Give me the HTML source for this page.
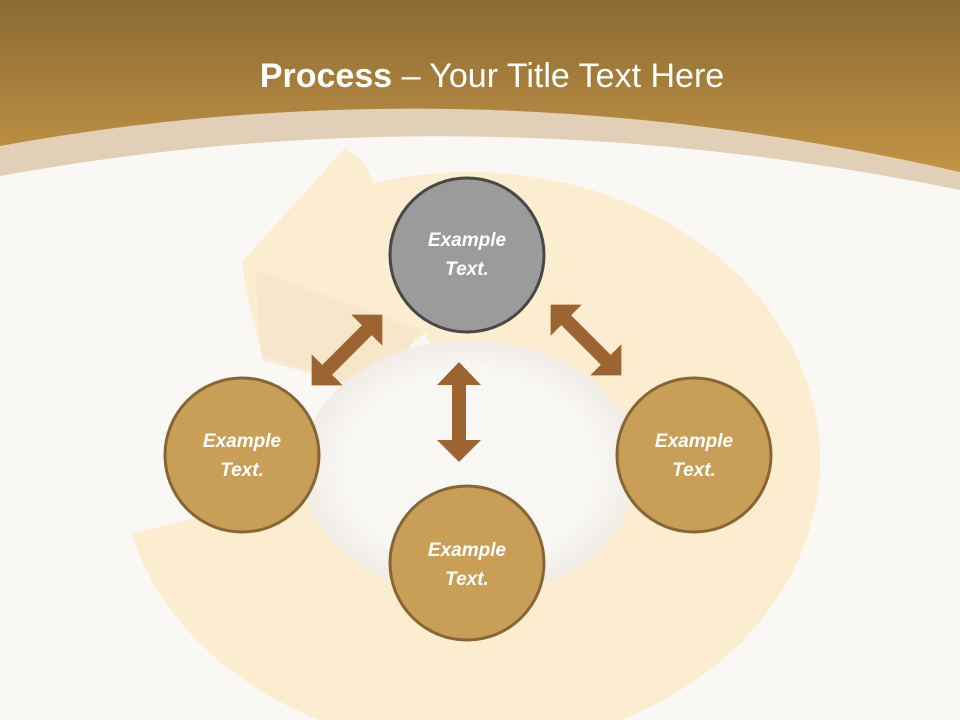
<!DOCTYPE html>
<html><head><meta charset="utf-8"><style>
html,body{margin:0;padding:0;width:960px;height:720px;overflow:hidden;background:#faf8f5}
</style></head><body>
<svg width="960" height="720" viewBox="0 0 960 720" xmlns="http://www.w3.org/2000/svg">
<defs>
<linearGradient id="hdr" x1="0" y1="0" x2="0" y2="1">
<stop offset="0" stop-color="#8a6a33"/><stop offset="1" stop-color="#cd9a48"/>
</linearGradient>
<radialGradient id="hole" cx="0.5" cy="0.5" r="0.5">
<stop offset="0.75" stop-color="#f9f7f4"/><stop offset="1" stop-color="#f0ece6"/>
</radialGradient>
<clipPath id="gap">
<path clip-rule="evenodd" d="M0,0H960V720H0Z M470,450 L-500,690 L-396,-50 L110,-500 Z"/>
</clipPath>
</defs>
<rect width="960" height="720" fill="#faf8f5"/>
<rect width="960" height="200" fill="url(#hdr)"/>
<path d="M0,146 Q470,60 960,172 L960,720 L0,720 Z" fill="#e2cfb8"/>
<path d="M0,176 Q470,90 960,190 L960,720 L0,720 Z" fill="#faf8f5"/>
<text x="492" y="87" text-anchor="middle" font-family="Liberation Sans, sans-serif" font-size="34" fill="#ffffff"><tspan font-weight="bold">Process</tspan> – Your Title Text Here</text>

<!-- background ring -->
<g clip-path="url(#gap)">
<ellipse cx="470" cy="460" rx="350" ry="288" fill="#fcecd0"/>
</g>
<polygon points="345,148 362,160 375,185 430,330 410,345 400,400 262,355 246,290 242,262" fill="#fcecd0"/>
<polygon points="255,270 420,330 410,345 405,400 262,360" fill="#f5e3c8" opacity="0.6"/>
<ellipse cx="470" cy="468" rx="168" ry="128" fill="url(#hole)"/>

<!-- arrows -->
<g fill="#9c6430">
<polygon points="459,362 481,385 466,385 466,440 481,440 459,462 437,440 452,440 452,385 437,385"/>
<g transform="translate(347,350) rotate(-45)">
<polygon points="-50,0 -28,-22 -28,-7 28,-7 28,-22 50,0 28,22 28,7 -28,7 -28,22"/>
</g>
<g transform="translate(586,340) rotate(45)">
<polygon points="-50,0 -28,-22 -28,-7 28,-7 28,-22 50,0 28,22 28,7 -28,7 -28,22"/>
</g>
</g>

<!-- circles -->
<circle cx="467" cy="255" r="77" fill="#9b9b9b" stroke="#474747" stroke-width="3"/>
<circle cx="242" cy="455" r="77" fill="#c99f58" stroke="#866634" stroke-width="3"/>
<circle cx="694" cy="455" r="77" fill="#c99f58" stroke="#866634" stroke-width="3"/>
<circle cx="467" cy="563" r="77" fill="#c99f58" stroke="#866634" stroke-width="3"/>

<g font-family="Liberation Sans, sans-serif" font-size="19" font-weight="bold" font-style="italic" fill="#ffffff" text-anchor="middle">
<text x="467" y="246">Example</text><text x="467" y="275">Text.</text>
<text x="242" y="447">Example</text><text x="242" y="476">Text.</text>
<text x="694" y="447">Example</text><text x="694" y="476">Text.</text>
<text x="467" y="556">Example</text><text x="467" y="585">Text.</text>
</g>
</svg>
</body></html>
